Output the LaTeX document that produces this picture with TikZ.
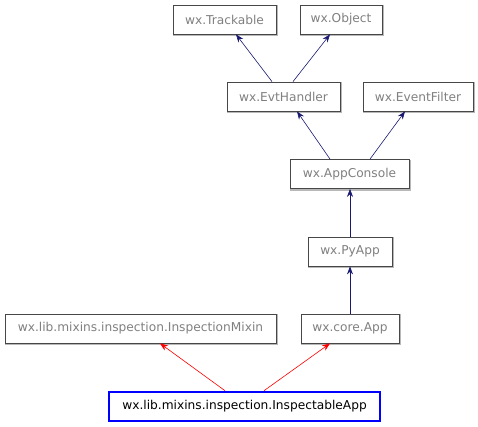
\documentclass[tikz,border=0pt]{standalone}
\usepackage{fontspec}
\setmainfont{DejaVu Sans}
\usetikzlibrary{arrows.meta}
\definecolor{navy}{HTML}{191970}
\tikzset{
  cls/.style={draw=black!72, fill=white, line width=0.8pt, inner sep=0pt, minimum height=29pt,
    text=black!50, font=\fontsize{12.2}{14}\selectfont,
    preaction={draw=black!28, line width=2pt, transform canvas={shift={(1.2pt,-1.2pt)}}}},
  focus/.style={draw=blue, fill=white, line width=2.6pt, inner sep=0pt, minimum height=29pt,
    text=black, font=\fontsize{12.2}{14}\selectfont},
  inh/.style={draw=navy, line width=0.6pt, -{Stealth[length=8pt,width=6pt]}},
  inhred/.style={draw=red, line width=0.6pt, -{Stealth[length=8pt,width=6pt]}},
}
\begin{document}
\begin{tikzpicture}[x=1pt,y=-1pt]
\useasboundingbox (0,0) rectangle (478,427);
\node[cls, minimum width=103pt] (tr) at (224.5,19.5) {wx.Trackable};
\node[cls, minimum width=82pt] (ob) at (341,19.5) {wx.Object};
\node[cls, minimum width=113pt] (eh) at (283.5,96.5) {wx.EvtHandler};
\node[cls, minimum width=110pt] (ef) at (418,96.5) {wx.EventFilter};
\node[cls, minimum width=119pt] (ac) at (349.5,174) {wx.AppConsole};
\node[cls, minimum width=84pt] (py) at (350,251.5) {wx.PyApp};
\node[cls, minimum width=271pt] (mx) at (140.5,328.5) {wx.lib.mixins.inspection.InspectionMixin};
\node[cls, minimum width=98pt] (ca) at (350,328.5) {wx.core.App};
\node[focus, minimum width=271pt, minimum height=29pt] (ia) at (244.5,406.5) {wx.lib.mixins.inspection.InspectableApp};
\draw[inhred] ([xshift=-19.5pt]ia.north) -- ([xshift=19.5pt]mx.south);
\draw[inhred] ([xshift=19.5pt]ia.north) -- ([xshift=-20pt]ca.south);
\draw[inh] (ca.north) -- (py.south);
\draw[inh] (py.north) -- (py.north |- ac.south);
\draw[inh] ([xshift=-19.5pt]ac.north) -- ([xshift=13.5pt]eh.south);
\draw[inh] ([xshift=20.5pt]ac.north) -- ([xshift=-13pt]ef.south);
\draw[inh] ([xshift=-11.5pt]eh.north) -- ([xshift=11.5pt]tr.south);
\draw[inh] ([xshift=9.5pt]eh.north) -- ([xshift=-11pt]ob.south);
\end{tikzpicture}
\end{document}
